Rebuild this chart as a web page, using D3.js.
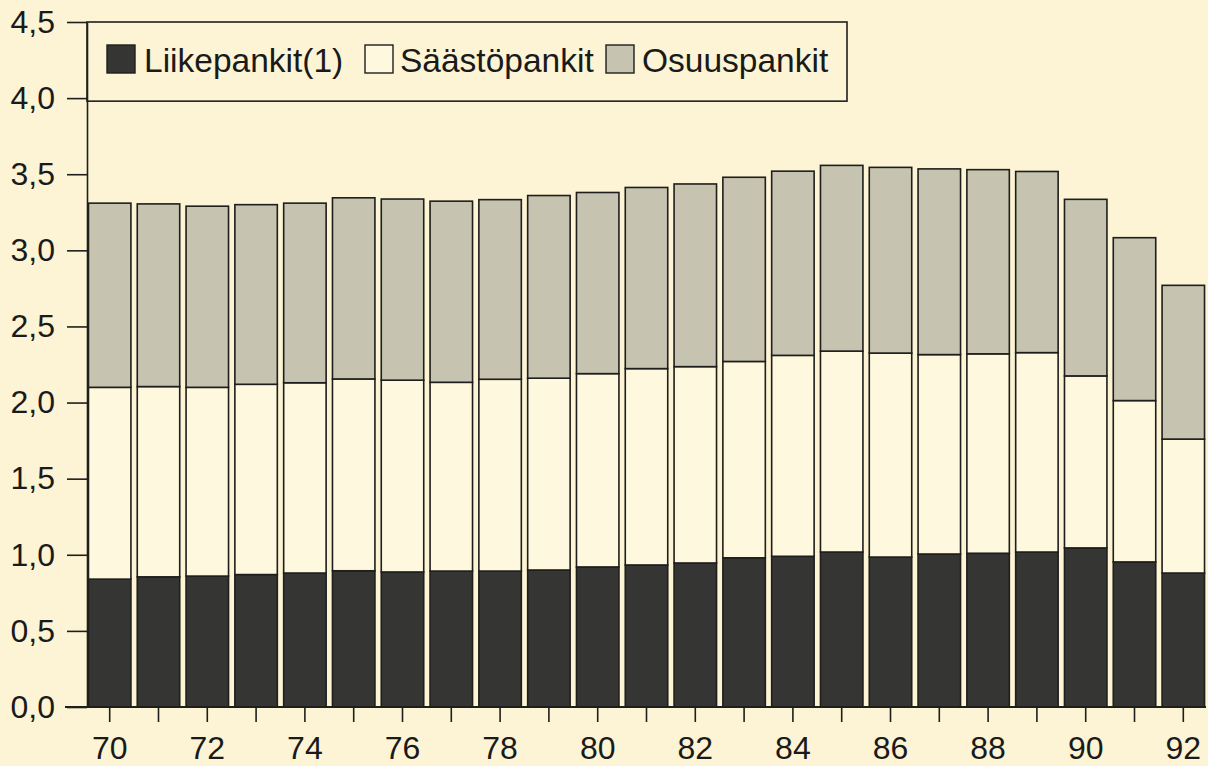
<!DOCTYPE html>
<html>
<head>
<meta charset="utf-8">
<script src="https://cdn.jsdelivr.net/npm/d3@7"></script>
<style>
  body { margin: 0; background: #fcf4d4; }
  svg { display: block; }
  text { font-family: "Liberation Sans", Arial, Helvetica, sans-serif; fill: #1a1a1a; }
</style>
</head>
<body>
<div id="fig1"></div>
<script>
// years 1970-1992, values
const years = ["70","71","72","73","74","75","76","77","78","79","80","81","82","83","84","85","86","87","88","89","90","91","92"];
const liikepankit = [0.84,0.855,0.86,0.87,0.88,0.895,0.887,0.893,0.893,0.90,0.92,0.933,0.946,0.98,0.99,1.018,0.985,1.005,1.01,1.018,1.045,0.953,0.88];
const saastopankit = [1.26,1.25,1.24,1.25,1.25,1.26,1.26,1.24,1.26,1.26,1.27,1.29,1.29,1.29,1.32,1.32,1.34,1.31,1.31,1.31,1.13,1.06,0.88];
const osuuspankit = [1.21,1.20,1.19,1.18,1.18,1.19,1.19,1.19,1.18,1.20,1.19,1.19,1.20,1.21,1.21,1.22,1.22,1.22,1.21,1.19,1.16,1.07,1.01];
const yTicks = [0,0.5,1,1.5,2,2.5,3,3.5,4,4.5];
const labelYears = ["70","72","74","76","78","80","82","84","86","88","90","92"];

const seriesKeys = ["liike","saasto","osuus"];
const seriesNames = {"liike": "Liikepankit(1)", "saasto": "Säästöpankit", "osuus": "Osuuspankit"};
const seriesFill = {"liike": "#353533", "saasto": "#fdf8de", "osuus": "#c6c3b1"};

const width = 1208, height = 766;

// build rows for d3.stack
var rows = years.map((y, i) => ({
    year: y,
    liike: liikepankit[i],
    saasto: saastopankit[i],
    osuus: osuuspankit[i]
}));

var xScale = d3.scaleBand()
    .domain(years)
    .range([87, 1206])
    .paddingInner(0.13)
    .paddingOuter(0.03);

var yScale = d3.scaleLinear()
    .domain([0, 4.5])
    .range([707, 22]);

var svg = d3.select("#fig1").append("svg")
    .attr("width", width)
    .attr("height", height);

var stacked = d3.stack().keys(seriesKeys)(rows);

// bars
svg.append("g")
    .selectAll("g")
    .data(stacked)
    .enter()
    .append("g")
    .attr("fill", d => seriesFill[d.key])
    .selectAll("rect")
    .data(d => d)
    .enter()
    .append("rect")
    .attr("x", d => xScale(d.data.year))
    .attr("y", d => yScale(d[1]))
    .attr("width", xScale.bandwidth())
    .attr("height", d => yScale(d[0]) - yScale(d[1]))
    .attr("stroke", "#1e1e1c")
    .attr("stroke-width", 1.6);

// y axis
var yAxis = svg.append("g")
    .attr("transform", "translate(87,0)")
    .call(d3.axisLeft(yScale)
        .tickValues(yTicks)
        .tickSize(20)
        .tickSizeOuter(0)
        .tickPadding(12)
        .tickFormat(d => d3.format(".1f")(d).replace(".", ",")));

// x axis, ticks on every year but labels only on even ones
var xAxis = svg.append("g")
    .attr("transform", "translate(0,707)")
    .call(d3.axisBottom(xScale)
        .tickSize(15)
        .tickSizeOuter(0)
        .tickPadding(14)
        .tickFormat(d => labelYears.includes(d) ? d : ""));

xAxis.select(".domain").remove();

svg.selectAll(".tick line").attr("stroke", "#1e1e1c").attr("stroke-width", 1.6);
yAxis.select(".domain").attr("stroke", "#1e1e1c").attr("stroke-width", 1.6);
svg.selectAll(".tick text")
    .style("font-size", "32px")
    .attr("fill", "#1a1a1a");

// baseline runs a bit left of the axis, like the 0,0 tick
svg.append("line")
    .attr("x1", 65)
    .attr("x2", xScale.range()[1])
    .attr("y1", yScale(0))
    .attr("y2", yScale(0))
    .attr("stroke", "#1e1e1c")
    .attr("stroke-width", 1.8);

// legend box sits between 4,5 and 4,0
var legend = svg.append("g");

legend.append("rect")
    .attr("x", 87)
    .attr("y", yScale(4.5))
    .attr("width", 760)
    .attr("height", yScale(3.98) - yScale(4.5))
    .attr("fill", "none")
    .attr("stroke", "#1e1e1c")
    .attr("stroke-width", 1.6);

var legendPos = [{sw: 107, tx: 144}, {sw: 365, tx: 400}, {sw: 606, tx: 642}];

seriesKeys.forEach((k, i) => {
    legend.append("rect")
        .attr("x", legendPos[i].sw)
        .attr("y", 45)
        .attr("width", 28)
        .attr("height", 28)
        .attr("fill", seriesFill[k])
        .attr("stroke", "#1e1e1c")
        .attr("stroke-width", 1.4);

    legend.append("text")
        .attr("x", legendPos[i].tx)
        .attr("y", 72)
        .style("font-size", "33.5px")
        .text(seriesNames[k]);
});
</script>
</body>
</html>
